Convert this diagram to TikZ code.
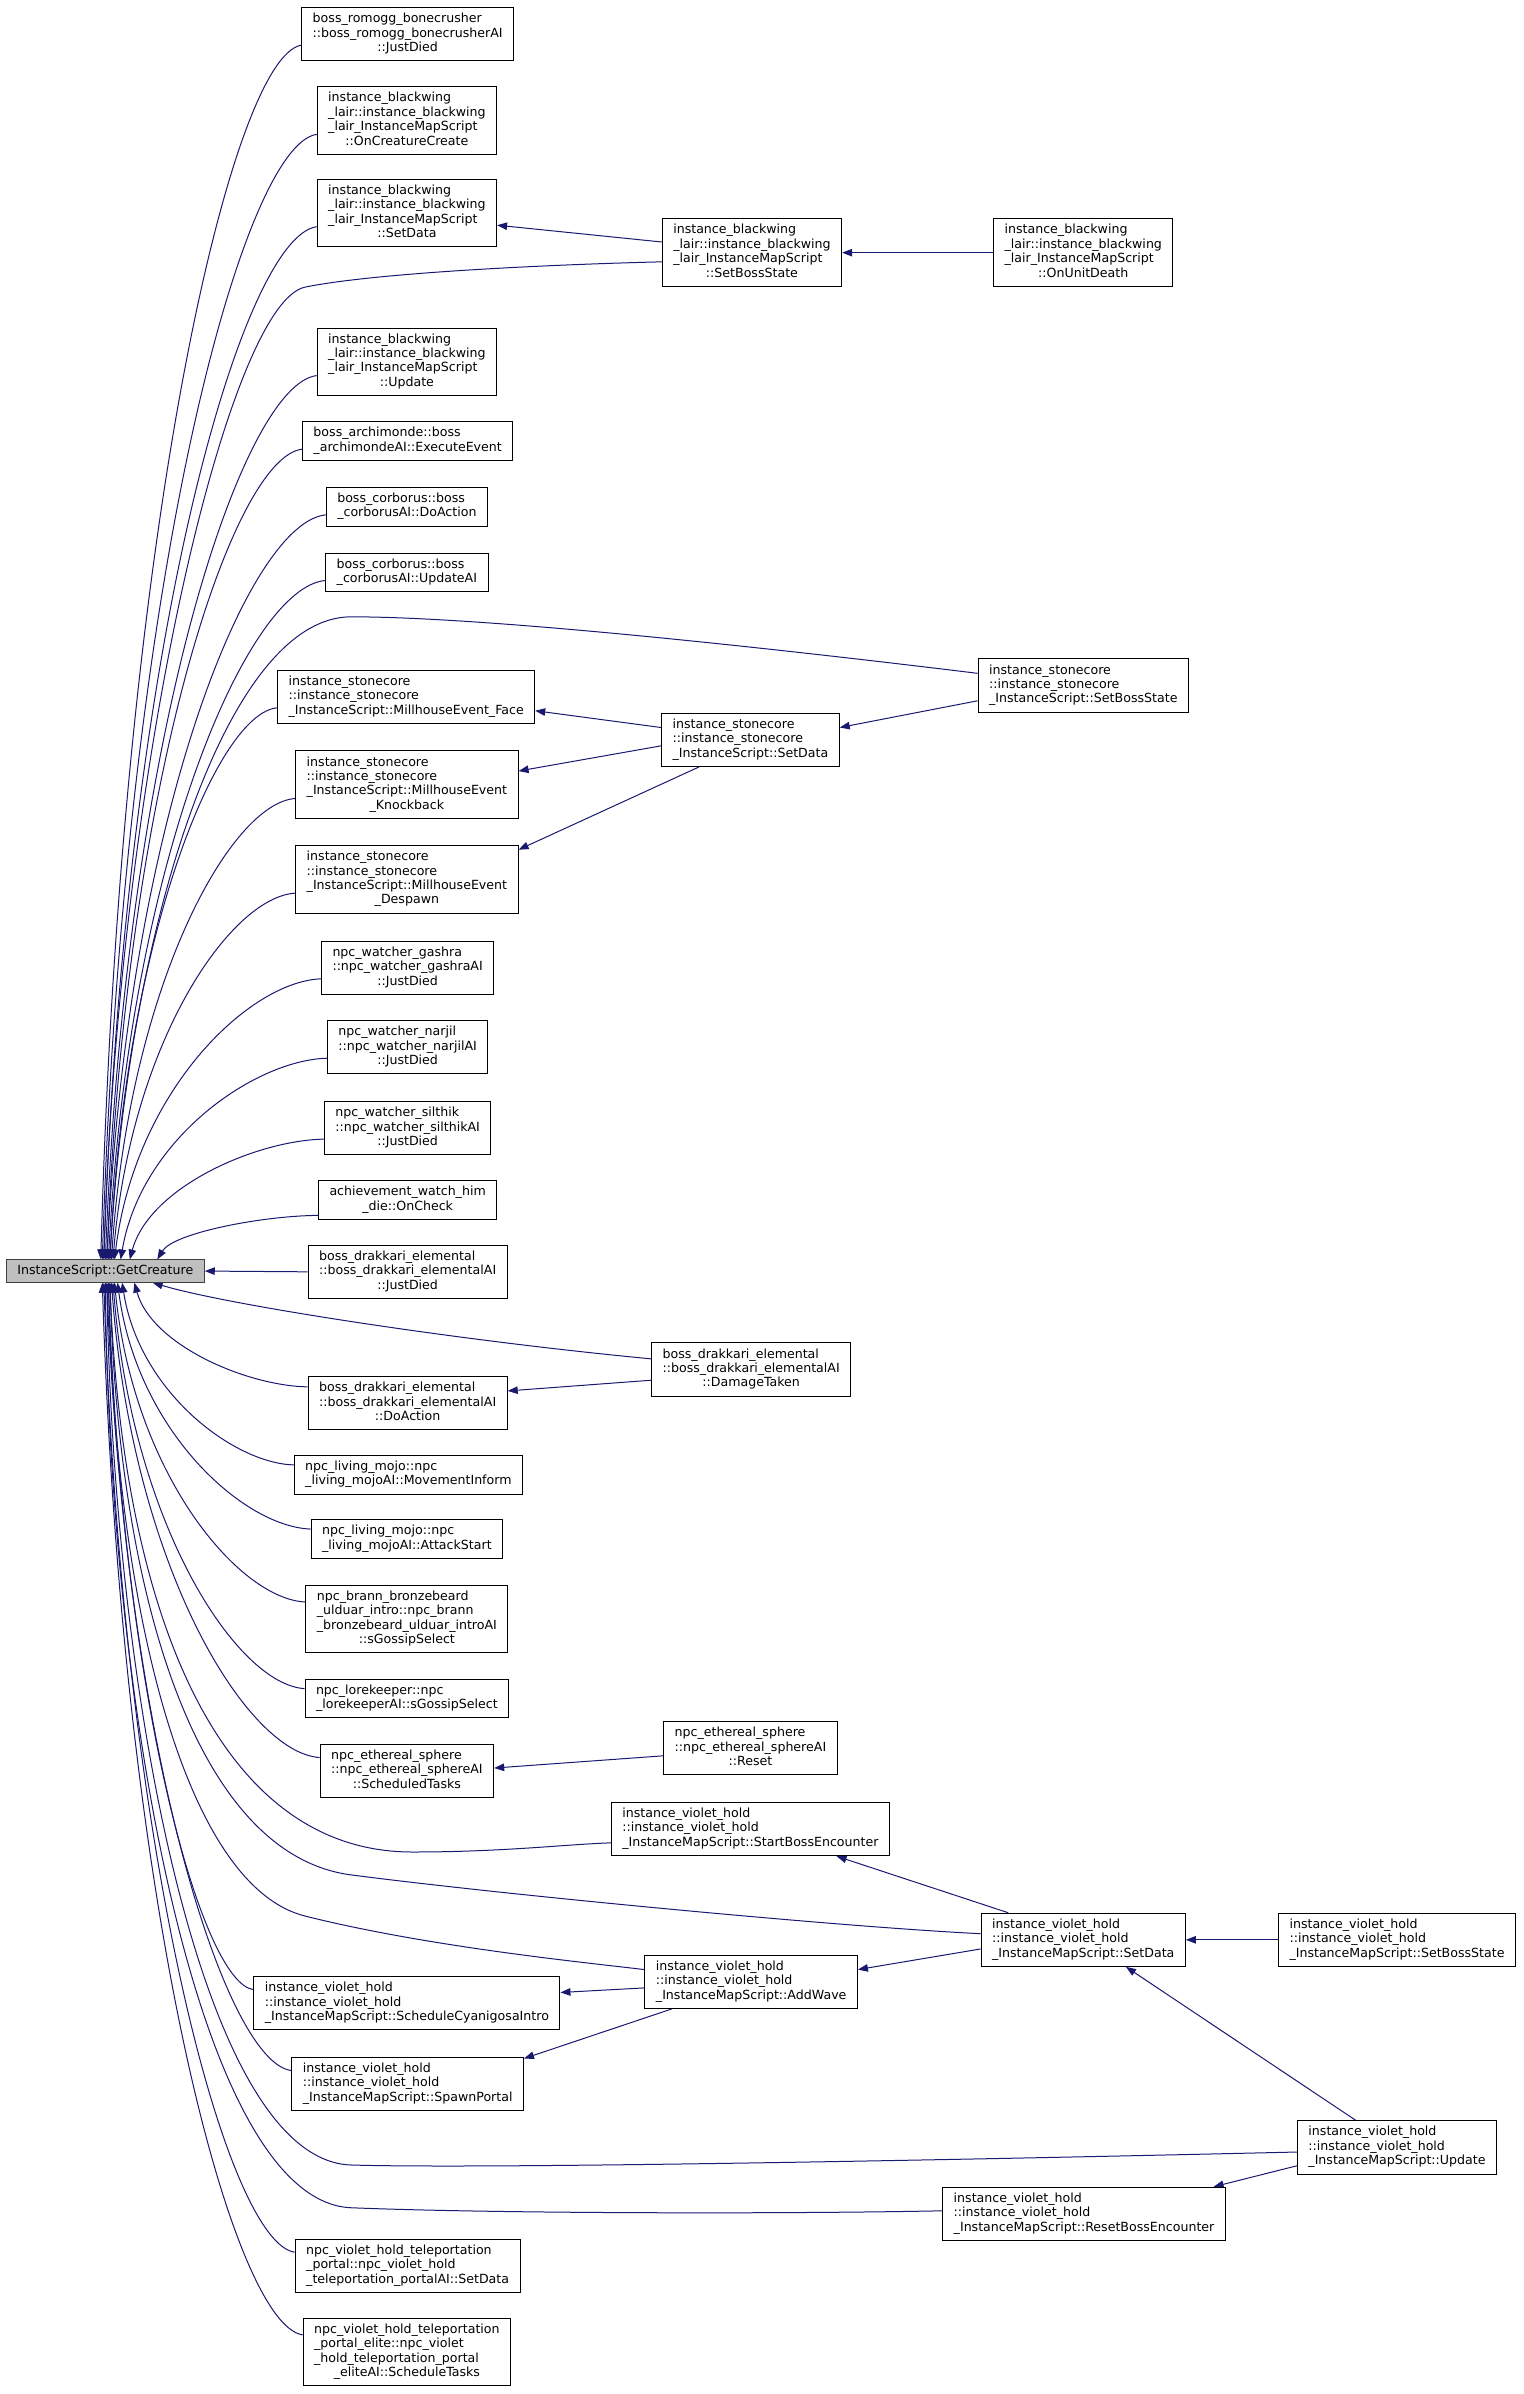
\documentclass[tikz,border=0pt]{standalone}
\usepackage{fontspec}
\setmainfont{DejaVu Sans}
\usetikzlibrary{arrows.meta,calc,backgrounds}
\definecolor{edgeblue}{HTML}{191970}
\definecolor{gcfill}{HTML}{BFBFBF}
\newcommand\lbl[2]{\begin{tabular}{@{}l@{}}#1\\\multicolumn{1}{@{}c@{}}{#2}\end{tabular}}
\newcommand\ccurve[2]{\draw[cedge] let \p1=(#1), \p2=(#2) in (\p2) .. controls ({(\x2)+0.1*((\x1)-(\x2))},{(\y1)-0.4*((\y1)-(\y2))}) and ({(\x1)-0.35*((\x1)-(\x2))},{(\y1)-0.01*((\y1)-(\y2))}) .. (\p1);}
\tikzset{
 fn/.style={draw=black, line width=1pt, fill=white, inner xsep=11pt, inner ysep=5pt, font=\fontsize{12.6}{14.4}\selectfont, anchor=center},
 gcnode/.style={fn, fill=gcfill, draw=black!75},
 cedge/.style={draw=edgeblue, line width=1pt, {Triangle[length=10pt,width=7.5pt,fill=edgeblue]}-},
}
\begin{document}
\begin{tikzpicture}[x=1.527pt,y=-1.527pt]
\useasboundingbox (0,0) rectangle (998,1568);
\node[gcnode] (GC) at (69,832.5) {InstanceScript::GetCreature};
% column A
\node[fn] (A1) at (267,22.5) {\lbl{boss\_romogg\_bonecrusher\\::boss\_romogg\_bonecrusherAI}{::JustDied}};
\node[fn] (A2) at (266.5,79) {\lbl{instance\_blackwing\\\_lair::instance\_blackwing\\\_lair\_InstanceMapScript}{::OnCreatureCreate}};
\node[fn] (A3) at (266.5,139.5) {\lbl{instance\_blackwing\\\_lair::instance\_blackwing\\\_lair\_InstanceMapScript}{::SetData}};
\node[fn] (A4) at (266.5,237) {\lbl{instance\_blackwing\\\_lair::instance\_blackwing\\\_lair\_InstanceMapScript}{::Update}};
\node[fn] (A5) at (267,289) {\lbl{boss\_archimonde::boss}{\_archimondeAI::ExecuteEvent}};
\node[fn] (A6) at (266.5,332) {\lbl{boss\_corborus::boss}{\_corborusAI::DoAction}};
\node[fn] (A7) at (266.5,375) {\lbl{boss\_corborus::boss}{\_corborusAI::UpdateAI}};
\node[fn] (A8) at (266,456.5) {\lbl{instance\_stonecore\\::instance\_stonecore}{\_InstanceScript::MillhouseEvent\_Face}};
\node[fn] (A9) at (266.5,514) {\lbl{instance\_stonecore\\::instance\_stonecore\\\_InstanceScript::MillhouseEvent}{\_Knockback}};
\node[fn] (A10) at (266.5,576) {\lbl{instance\_stonecore\\::instance\_stonecore\\\_InstanceScript::MillhouseEvent}{\_Despawn}};
\node[fn] (A11) at (267,634) {\lbl{npc\_watcher\_gashra\\::npc\_watcher\_gashraAI}{::JustDied}};
\node[fn] (A12) at (267,686) {\lbl{npc\_watcher\_narjil\\::npc\_watcher\_narjilAI}{::JustDied}};
\node[fn] (A13) at (267,739) {\lbl{npc\_watcher\_silthik\\::npc\_watcher\_silthikAI}{::JustDied}};
\node[fn] (A14) at (267,786) {\lbl{achievement\_watch\_him}{\_die::OnCheck}};
\node[fn] (A15) at (267,833) {\lbl{boss\_drakkari\_elemental\\::boss\_drakkari\_elementalAI}{::JustDied}};
\node[fn] (A16) at (267,919) {\lbl{boss\_drakkari\_elemental\\::boss\_drakkari\_elementalAI}{::DoAction}};
\node[fn] (A17) at (267.5,966) {\lbl{npc\_living\_mojo::npc}{\_living\_mojoAI::MovementInform}};
\node[fn] (A18) at (266.5,1008) {\lbl{npc\_living\_mojo::npc}{\_living\_mojoAI::AttackStart}};
\node[fn] (A19) at (266.5,1060.5) {\lbl{npc\_brann\_bronzebeard\\\_ulduar\_intro::npc\_brann\\\_bronzebeard\_ulduar\_introAI}{::sGossipSelect}};
\node[fn] (A20) at (266.5,1112.5) {\lbl{npc\_lorekeeper::npc}{\_lorekeeperAI::sGossipSelect}};
\node[fn] (A21) at (266.5,1160) {\lbl{npc\_ethereal\_sphere\\::npc\_ethereal\_sphereAI}{::ScheduledTasks}};
\node[fn] (A22) at (266.5,1312) {\lbl{instance\_violet\_hold\\::instance\_violet\_hold}{\_InstanceMapScript::ScheduleCyanigosaIntro}};
\node[fn] (A23) at (267,1365) {\lbl{instance\_violet\_hold\\::instance\_violet\_hold}{\_InstanceMapScript::SpawnPortal}};
\node[fn] (A24) at (267,1484) {\lbl{npc\_violet\_hold\_teleportation\\\_portal::npc\_violet\_hold}{\_teleportation\_portalAI::SetData}};
\node[fn] (A25) at (266.5,1540.5) {\lbl{npc\_violet\_hold\_teleportation\\\_portal\_elite::npc\_violet\\\_hold\_teleportation\_portal}{\_eliteAI::ScheduleTasks}};
% column B
\node[fn] (B1) at (492.5,165.5) {\lbl{instance\_blackwing\\\_lair::instance\_blackwing\\\_lair\_InstanceMapScript}{::SetBossState}};
\node[fn] (B2) at (491.5,484.5) {\lbl{instance\_stonecore\\::instance\_stonecore}{\_InstanceScript::SetData}};
\node[fn] (B3) at (492,897) {\lbl{boss\_drakkari\_elemental\\::boss\_drakkari\_elementalAI}{::DamageTaken}};
\node[fn] (B4) at (491.5,1145) {\lbl{npc\_ethereal\_sphere\\::npc\_ethereal\_sphereAI}{::Reset}};
\node[fn] (B5) at (491.5,1198) {\lbl{instance\_violet\_hold\\::instance\_violet\_hold}{\_InstanceMapScript::StartBossEncounter}};
\node[fn] (B6) at (492,1298) {\lbl{instance\_violet\_hold\\::instance\_violet\_hold}{\_InstanceMapScript::AddWave}};
\node[fn] (B7) at (710,1450) {\lbl{instance\_violet\_hold\\::instance\_violet\_hold}{\_InstanceMapScript::ResetBossEncounter}};
% column C
\node[fn] (C1) at (709.5,165.5) {\lbl{instance\_blackwing\\\_lair::instance\_blackwing\\\_lair\_InstanceMapScript}{::OnUnitDeath}};
\node[fn] (C2) at (709.5,449) {\lbl{instance\_stonecore\\::instance\_stonecore}{\_InstanceScript::SetBossState}};
\node[fn] (C3) at (709.5,1270.5) {\lbl{instance\_violet\_hold\\::instance\_violet\_hold}{\_InstanceMapScript::SetData}};
\node[fn] (C4) at (915,1406.5) {\lbl{instance\_violet\_hold\\::instance\_violet\_hold}{\_InstanceMapScript::Update}};
\node[fn] (D1) at (915,1270.5) {\lbl{instance\_violet\_hold\\::instance\_violet\_hold}{\_InstanceMapScript::SetBossState}};

\begin{pgfonlayer}{background}
% upper callers
\ccurve{$(A1.west)!0.4!(A1.south west)$}{$(GC.north)+(-3,0)$}
\ccurve{$(A2.west)!0.4!(A2.south west)$}{$(GC.north)+(-2,0)$}
\ccurve{$(A3.west)!0.4!(A3.south west)$}{$(GC.north)+(-1,0)$}
\ccurve{$(A4.west)!0.4!(A4.south west)$}{$(GC.north)+(0,0)$}
\ccurve{$(A5.west)!0.4!(A5.south west)$}{$(GC.north)+(1,0)$}
\ccurve{$(A6.west)!0.4!(A6.south west)$}{$(GC.north)+(1,0)$}
\ccurve{$(A7.west)!0.4!(A7.south west)$}{$(GC.north)+(2,0)$}
\ccurve{$(A8.west)!0.4!(A8.south west)$}{$(GC.north)+(3,0)$}
\ccurve{$(A9.west)!0.4!(A9.south west)$}{$(GC.north)+(4,0)$}
\ccurve{$(A10.west)!0.4!(A10.south west)$}{$(GC.north)+(5,0)$}
\ccurve{$(A11.west)!0.4!(A11.south west)$}{$(GC.north)+(6,0)$}
\ccurve{$(A12.west)!0.4!(A12.south west)$}{$(GC.north)+(10,0)$}
\ccurve{$(A13.west)!0.4!(A13.south west)$}{$(GC.north)+(16,0)$}
\ccurve{$(A14.south west)+(0,-3)$}{$(GC.north)+(34,0)$}
% lower callers
\ccurve{$(A16.west)!0.6!(A16.north west)$}{$(GC.south)+(19,0)$}
\ccurve{$(A17.west)!0.5!(A17.north west)$}{$(GC.south)+(11,0)$}
\ccurve{$(A18.west)!0.5!(A18.north west)$}{$(GC.south)+(8,0)$}
\ccurve{$(A19.west)!0.5!(A19.north west)$}{$(GC.south)+(6,0)$}
\ccurve{$(A20.west)!0.5!(A20.north west)$}{$(GC.south)+(5,0)$}
\ccurve{$(A21.west)!0.5!(A21.north west)$}{$(GC.south)+(4,0)$}
\ccurve{$(A22.west)!0.5!(A22.north west)$}{$(GC.south)+(2,0)$}
\ccurve{$(A23.west)!0.5!(A23.north west)$}{$(GC.south)+(1,0)$}
\ccurve{$(A24.west)!0.5!(A24.north west)$}{$(GC.south)+(-1,0)$}
\ccurve{$(A25.west)!0.5!(A25.north west)$}{$(GC.south)+(-2,0)$}
\draw[cedge] (GC.east) -- (A15.west);
% long edges to GetCreature
\draw[cedge] ($(GC.north)+(-1,0)$) .. controls (78,500) and (150,198) .. (200,188) .. controls (250,178) and (370,173) .. ($(B1.west)+(0,6)$);
\draw[cedge] ($(GC.north)+(3,0)$) .. controls (85,600) and (150,404) .. (230,404) .. controls (330,404) and (550,430) .. ($(C2.west)+(0,-8)$);
\draw[cedge] ($(GC.south)+(31,0)$) .. controls (150,855) and (300,878) .. ($(B3.west)+(0,-7)$);
\draw[cedge] ($(GC.south)+(3,0)$) .. controls (80,1050) and (140,1213) .. (270,1213) .. controls (330,1213) and (370,1208) .. ($(B5.west)+(0,9)$);
\draw[cedge] ($(GC.south)+(3,0)$) .. controls (78,1050) and (130,1215) .. (230,1228) .. controls (330,1241) and (550,1262) .. ($(C3.west)+(0,-4)$);
\draw[cedge] ($(GC.south)+(2,0)$) .. controls (76,1050) and (120,1235) .. (200,1255) .. controls (280,1275) and (380,1285) .. ($(B6.west)+(0,-8)$);
\draw[cedge] ($(GC.south)+(1,0)$) .. controls (74,1100) and (130,1415) .. (230,1418) .. controls (330,1421) and (700,1413) .. ($(C4.west)+(0,3)$);
\draw[cedge] ($(GC.south)+(0,0)$) .. controls (72,1120) and (130,1442) .. (230,1446) .. controls (330,1450) and (520,1450) .. ($(B7.west)+(0,-2)$);
% other edges
\draw[cedge] ($(A3.east)+(0,8)$) -- ($(B1.west)+(0,-7)$);
\draw[cedge] (B1.east) -- (C1.west);
\draw[cedge] ($(A8.east)+(0,9)$) -- ($(B2.west)+(0,-8)$);
\draw[cedge] ($(A9.east)+(0,-9)$) -- ($(B2.west)+(0,4)$);
\draw[cedge] ($(A10.north east)+(0,3)$) -- ($(B2.south west)+(25,0)$);
\draw[cedge] ($(B2.east)+(0,-8)$) -- ($(C2.west)+(0,10)$);
\draw[cedge] ($(A16.east)+(0,-8)$) -- ($(B3.west)+(0,7)$);
\draw[cedge] ($(A21.east)+(0,-2)$) -- ($(B4.west)+(0,5)$);
\draw[cedge] ($(B5.south east)+(-35,0)$) -- ($(C3.north west)+(18,0)$);
\draw[cedge] ($(B6.east)+(0,-8)$) -- ($(C3.west)+(0,6)$);
\draw[cedge] (C3.east) -- (D1.west);
\draw[cedge] ($(C3.south)+(28,0)$) -- ($(C4.north)+(-27,0)$);
\draw[cedge] ($(A22.east)+(0,-7)$) -- ($(B6.west)+(0,4)$);
\draw[cedge] ($(A23.north east)+(0,1)$) -- ($(B6.south west)+(18,0)$);
\draw[cedge] ($(B7.north east)+(-8,0)$) -- ($(C4.west)+(0,12)$);
\end{pgfonlayer}
\end{tikzpicture}
\end{document}
